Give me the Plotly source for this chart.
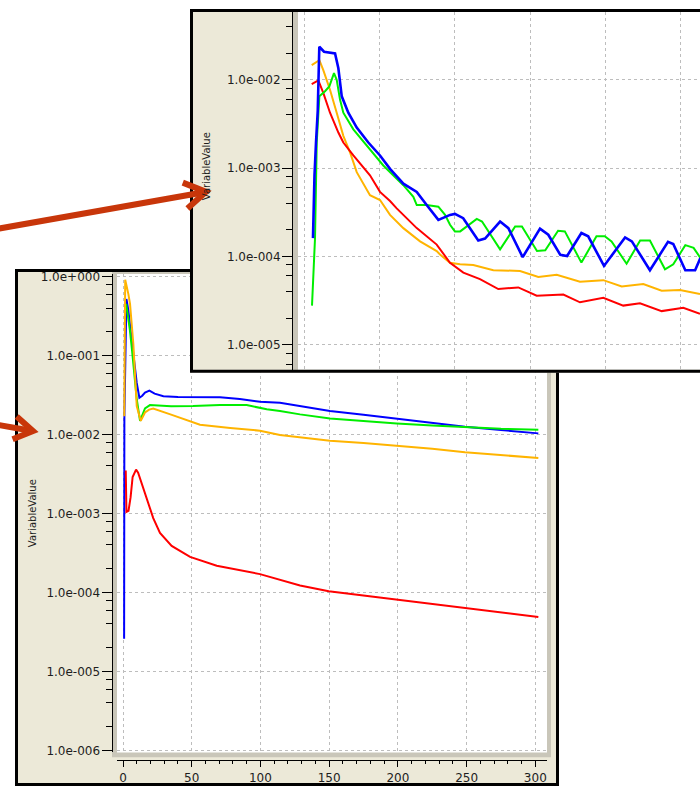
import math
import plotly.graph_objects as go

W, H = 700, 791

# ---------------- data: main (lower) panel ----------------
main_blue_x = [0.8, 1.0, 2.5, 3.9, 5, 6.5, 8, 10, 11.9, 14, 16, 19.2, 23, 29.4, 40, 55, 70.6, 85, 99.7,
               114.2, 128.8, 150.6, 175, 199.2, 225, 248.8, 275, 302.2]
main_blue_y = [2.6e-5, 0.017, 0.52, 0.372, 0.25, 0.15, 0.09, 0.045, 0.0292, 0.031, 0.034, 0.036, 0.033, 0.0306,
               0.0299, 0.0298, 0.0297, 0.0282, 0.026, 0.0253, 0.0229, 0.0199, 0.0178, 0.01595, 0.0141, 0.01253,
               0.0114, 0.01035]

main_green_x = [2.3, 3.5, 5, 6.5, 8, 10, 12.4, 14, 16, 19.6, 25, 35, 51, 70.6, 90, 104.6, 114.2, 128.8, 150.6,
                175, 199.2, 225, 248.8, 275, 302.2]
main_green_y = [0.45, 0.33, 0.21, 0.12, 0.065, 0.028, 0.0149, 0.0175, 0.0215, 0.0236, 0.0232, 0.0228, 0.0229,
                0.0236, 0.0236, 0.0209, 0.0199, 0.018, 0.016, 0.0148, 0.0138, 0.013, 0.0123, 0.0118, 0.01148]

main_orange_x = [0.9, 1.6, 3.9, 5.1, 7.5, 10, 12.9, 16, 19, 22, 35, 56, 78, 99.7, 114.2, 128.8, 150.6, 175,
                 199.2, 225, 248.8, 275, 302.2]
main_orange_y = [0.017, 0.91, 0.6, 0.45, 0.142, 0.0229, 0.0149, 0.019, 0.0207, 0.0213, 0.0179, 0.0133, 0.0121,
                 0.0112, 0.00986, 0.0092, 0.00836, 0.0078, 0.00724, 0.0066, 0.00598, 0.0055, 0.00504]

main_red_x = [2.0, 2.5, 4, 5.5, 7, 9.5, 11, 13, 14.8, 18, 22, 26.9, 35.4, 48.8, 68.2, 99.7, 114.2, 128.8, 149.7,
              175, 199.6, 225, 249, 275, 302.2]
main_red_y = [0.0035, 0.00105, 0.00108, 0.0016, 0.0029, 0.0036, 0.0033, 0.0026, 0.00208, 0.0014, 0.000875,
              0.000569, 0.000389, 0.000282, 0.000218, 0.000171, 0.000144, 0.000123, 0.000104, 0.000092,
              0.0000808, 0.000072, 0.0000645, 0.000056, 0.000049]

# ---------------- data: inset (upper) panel ----------------
inset_blue_x = [1.15, 1.22, 1.35, 1.55, 1.78, 1.99, 2.62, 4.08, 4.52, 4.97, 5.84, 6.96, 8.5, 10.05, 11.38,
                13.15, 14.93, 16.25, 17.8, 19.35, 20.0, 21.1, 23.1, 24.0, 26.0, 27.1, 29.0, 31.3, 32.4, 34.0,
                34.9, 36.8, 37.7, 39.8, 42.6, 43.5, 45.9, 48.3, 49.0, 50.6, 51.9, 52.6]
inset_blue_y = [1.61e-4, 3.66e-4, 8.3e-4, 1.95e-3, 4.43e-3, 2.37e-2, 2.08e-2, 1.99e-2, 1.35e-2, 6.5e-3,
                4.24e-3, 2.88e-3, 1.95e-3, 1.39e-3, 9.8e-4, 6.67e-4, 5.38e-4, 3.82e-4, 2.59e-4, 2.95e-4,
                3.03e-4, 2.71e-4, 1.51e-4, 1.59e-4, 2.48e-4, 2.09e-4, 9.8e-5, 2.06e-4, 1.76e-4, 1.04e-4,
                1.01e-4, 1.84e-4, 1.69e-4, 7.8e-5, 1.64e-4, 1.48e-4, 6.97e-5, 1.46e-4, 1.38e-4, 6.97e-5,
                6.97e-5, 9.6e-5]

inset_green_x = [1.02, 1.2, 1.42, 1.65, 2.0, 2.75, 3.32, 3.94, 4.3, 4.74, 5.18, 6.51, 8.72, 10.49, 13.15,
                 14.48, 14.93, 16.25, 17.8, 18.69, 19.35, 20.0, 20.7, 22.9, 23.6, 26.0, 28.0, 28.9, 30.9, 32.0,
                 33.7, 34.6, 36.8, 38.8, 39.9, 40.8, 42.8, 44.6, 45.9, 47.9, 49.0, 50.6, 51.7, 52.6]
inset_green_y = [2.77e-5, 6.84e-5, 1.61e-4, 1.95e-3, 6.52e-3, 7.42e-3, 8.43e-3, 1.19e-2, 1.0e-2, 5.97e-3,
                 4.24e-3, 2.75e-3, 1.64e-3, 1.07e-3, 6.4e-4, 4.73e-4, 3.82e-4, 3.82e-4, 3.66e-4, 2.95e-4,
                 2.28e-4, 1.92e-4, 1.92e-4, 2.66e-4, 2.48e-4, 1.2e-4, 2.18e-4, 2.18e-4, 1.15e-4, 1.17e-4,
                 1.95e-4, 1.92e-4, 8.5e-5, 1.69e-4, 1.69e-4, 1.48e-4, 8.26e-5, 1.51e-4, 1.51e-4, 7.14e-5,
                 8.13e-5, 1.34e-4, 1.25e-4, 9.6e-5]

inset_orange_x = [0.98, 2.0, 2.52, 3.41, 4.3, 5.18, 6.07, 6.96, 8.72, 10.05, 11.38, 13.15, 15.37, 17.58,
                  18.02, 19.35, 20.68, 22.44, 25.1, 28.65, 31.08, 33.52, 36.61, 39.71, 42.15, 45.02, 47.46,
                  49.89, 52.55]
inset_orange_y = [0.0147, 0.0167, 0.0129, 7.73e-3, 4.24e-3, 2.32e-3, 1.51e-3, 9.0e-4, 4.94e-4, 4.35e-4,
                  2.95e-4, 2.09e-4, 1.48e-4, 1.15e-4, 1.05e-4, 8.47e-5, 8.13e-5, 8.0e-5, 6.97e-5, 6.84e-5,
                  5.86e-5, 6.18e-5, 5.15e-5, 5.38e-5, 4.57e-5, 4.86e-5, 4.09e-5, 4.15e-5, 3.75e-5]

inset_red_x = [0.98, 1.86, 2.52, 3.41, 4.52, 5.18, 6.51, 8.72, 10.05, 11.38, 12.27, 14.93, 17.58, 19.35,
               21.12, 23.33, 25.76, 28.42, 30.86, 34.4, 36.61, 39.71, 42.36, 44.58, 47.46, 50.33, 52.55]
inset_red_y = [8.95e-3, 9.84e-3, 7.1e-3, 4.24e-3, 2.53e-3, 1.95e-3, 1.39e-3, 8.28e-4, 5.38e-4, 4.24e-4,
               3.5e-4, 2.09e-4, 1.36e-4, 8.47e-5, 6.55e-5, 5.52e-5, 4.27e-5, 4.45e-5, 3.59e-5, 3.69e-5,
               3.02e-5, 3.39e-5, 2.77e-5, 2.94e-5, 2.4e-5, 2.62e-5, 2.24e-5]

# ---------------- ticks ----------------
main_y_ticks = [1e0, 1e-1, 1e-2, 1e-3, 1e-4, 1e-5, 1e-6]
main_y_labels = ["1.0e+000", "1.0e-001", "1.0e-002", "1.0e-003", "1.0e-004", "1.0e-005", "1.0e-006"]
inset_y_ticks = [1e-2, 1e-3, 1e-4, 1e-5]
inset_y_labels = ["1.0e-002", "1.0e-003", "1.0e-004", "1.0e-005"]
main_x_ticks = [0, 50, 100, 150, 200, 250, 300]
main_x_labels = ["0", "50", "100", "150", "200", "250", "300"]
minor_mantissas = [2, 4, 6, 8]
main_minor = [m * 10.0 ** e for e in range(-6, 0) for m in minor_mantissas]
inset_minor = [m * 10.0 ** e for e in range(-6, -1) for m in minor_mantissas]

BLUE, GREEN, ORANGE, RED = "#0000ff", "#00ee00", "#ffb400", "#ff0000"
BEIGE, BAND, GRID = "#ece9d8", "#c9c6b9", "#bdbdbd"
ARROW = "#c8360a"
FONT = "DejaVu Sans"


def fx(p):
    return p / W


def fy(p):
    return 1 - p / H


fig = go.Figure()
for xs, ys, c in [(main_blue_x, main_blue_y, BLUE), (main_green_x, main_green_y, GREEN),
                  (main_orange_x, main_orange_y, ORANGE), (main_red_x, main_red_y, RED)]:
    fig.add_trace(go.Scatter(x=xs, y=ys, mode="lines", line=dict(color=c, width=2),
                             xaxis="x", yaxis="y", showlegend=False))
fig.add_trace(go.Scatter(x=[], y=[], xaxis="x2", yaxis="y2", showlegend=False, hoverinfo="skip"))
for xs, ys, c, w in [(inset_orange_x, inset_orange_y, ORANGE, 2), (inset_red_x, inset_red_y, RED, 2),
                     (inset_green_x, inset_green_y, GREEN, 2), (inset_blue_x, inset_blue_y, BLUE, 2.6)]:
    fig.add_trace(go.Scatter(x=xs, y=ys, mode="lines", line=dict(color=c, width=w),
                             xaxis="x3", yaxis="y3", showlegend=False))

tickfont = dict(family=FONT, size=12, color="#1e1e1e")
titlefont = dict(family=FONT, size=10, color="#1e1e1e")


def rect(x0, y0, x1, y1, fill, layer="below", line_w=0, ref="paper"):
    if ref == "paper":
        return dict(type="rect", xref="paper", yref="paper", x0=fx(x0), x1=fx(x1), y0=fy(y0), y1=fy(y1),
                    fillcolor=fill, line=dict(width=line_w, color="black"), layer=layer)
    return dict(type="rect", xref="x2", yref="y2", x0=x0, x1=x1, y0=y0, y1=y1,
                fillcolor=fill, line=dict(width=line_w, color="black"), layer=layer)


def arrow(tail, tip, width=6, head_len=25, head_ang=32):
    dx, dy = tip[0] - tail[0], tip[1] - tail[1]
    L = math.hypot(dx, dy)
    bx, by = -dx / L, -dy / L
    wings = []
    for s in (1, -1):
        a = math.radians(head_ang * s)
        wx = bx * math.cos(a) - by * math.sin(a)
        wy = bx * math.sin(a) + by * math.cos(a)
        wings.append((tip[0] + wx * head_len, tip[1] + wy * head_len))
    shaft = dict(type="line", xref="paper", yref="paper", x0=fx(tail[0]), y0=fy(tail[1]),
                 x1=fx(tip[0] - 2 * (dx / L)), y1=fy(tip[1] - 2 * (dy / L)),
                 line=dict(color=ARROW, width=width), layer="above")
    p = "M{:.5f},{:.5f} L{:.5f},{:.5f} L{:.5f},{:.5f}".format(
        fx(wings[0][0]), fy(wings[0][1]), fx(tip[0]), fy(tip[1]), fx(wings[1][0]), fy(wings[1][1]))
    head = dict(type="path", xref="paper", yref="paper", path=p,
                line=dict(color=ARROW, width=width), layer="above")
    return [shaft, head]


shapes = [
    # main panel window
    rect(16.5, 269.5, 557.5, 789.5, BEIGE, line_w=3),
    rect(112, 271, 551, 762, BAND),
    rect(117, 273, 547, 757, "white"),
    # inset window (in its own subplot layer, so it sits above the main panel)
    rect(190, 5, 700, 373, BEIGE, ref="x2"),
    rect(292.5, 8, 298, 370, BAND, ref="x2"),
    rect(298, 8, 700, 370, "white", ref="x2"),
    # inset border
    dict(type="rect", xref="paper", yref="paper", x0=fx(191.5), x1=fx(712), y0=fy(6.5), y1=fy(371.5),
         line=dict(color="black", width=3), fillcolor="rgba(0,0,0,0)", layer="above"),
]
shapes += arrow((-6, 228), (206, 190))
shapes += arrow((-6, 425), (33, 432), head_len=22)

fig.update_layout(
    width=W, height=H, margin=dict(l=0, r=0, t=0, b=0),
    paper_bgcolor="white", plot_bgcolor="rgba(0,0,0,0)",
    showlegend=False, font=dict(family=FONT, color="#1e1e1e"),
    xaxis=dict(domain=[fx(117), fx(547)], range=[-4.37, 308.5], anchor="free", position=fy(765),
               tickmode="array", tickvals=main_x_ticks, ticktext=main_x_labels, ticks="outside",
               ticklen=6, tickcolor="black", showline=True, linecolor="black", linewidth=1,
               showgrid=True, gridcolor=GRID, griddash="3px,3px", zeroline=False, tickfont=tickfont,
               ticklabelstandoff=0,
               minor=dict(dtick=10, tick0=0, ticks="outside", ticklen=3, tickcolor="black", showgrid=False)),
    yaxis=dict(domain=[fy(757), fy(273)], type="log", range=[-6.024, 0.034], anchor="free",
               position=fx(111.5), tickmode="array", tickvals=main_y_ticks, ticktext=main_y_labels,
               ticks="outside", ticklen=10, tickcolor="black", showline=True, linecolor="black",
               linewidth=1, showgrid=True, gridcolor=GRID, griddash="3px,3px", zeroline=False,
               tickfont=tickfont, ticklabelstandoff=-1,
               minor=dict(tickmode="array", tickvals=main_minor, ticks="outside", ticklen=6,
                          tickcolor="black", showgrid=False),
               title=dict(text="VariableValue", font=titlefont, standoff=1)),
    xaxis2=dict(domain=[fx(190), 1], range=[190, 700], visible=False, anchor="y2"),
    yaxis2=dict(domain=[fy(373), fy(5)], range=[373, 5], visible=False, anchor="x2"),
    xaxis3=dict(domain=[fx(298), 1], range=[-0.84, 52.55], anchor="y3", showticklabels=False, ticks="",
                showline=False, tick0=0, dtick=10, showgrid=True, gridcolor=GRID, griddash="3px,3px",
                zeroline=False),
    yaxis3=dict(domain=[fy(370), fy(8)], type="log", range=[-5.2845, -1.2307], anchor="free",
                position=fx(292), tickmode="array", tickvals=inset_y_ticks, ticktext=inset_y_labels,
                ticks="outside", ticklen=10, tickcolor="black", showline=True, linecolor="black",
                linewidth=1, showgrid=True, gridcolor=GRID, griddash="3px,3px", zeroline=False,
                tickfont=tickfont, ticklabelstandoff=-1,
                minor=dict(tickmode="array", tickvals=inset_minor, ticks="outside", ticklen=6,
                           tickcolor="black", showgrid=False)),
    shapes=shapes,
    annotations=[dict(text="VariableValue", xref="paper", yref="paper", x=fx(206), y=fy(164),
                      textangle=-90, showarrow=False, xanchor="center", yanchor="middle",
                      font=titlefont)],
)

fig.write_html("out.html", config={"displayModeBar": False},
               post_script="document.body.style.margin='0';document.body.style.padding='0';"
                           "document.body.style.overflow='hidden';")
